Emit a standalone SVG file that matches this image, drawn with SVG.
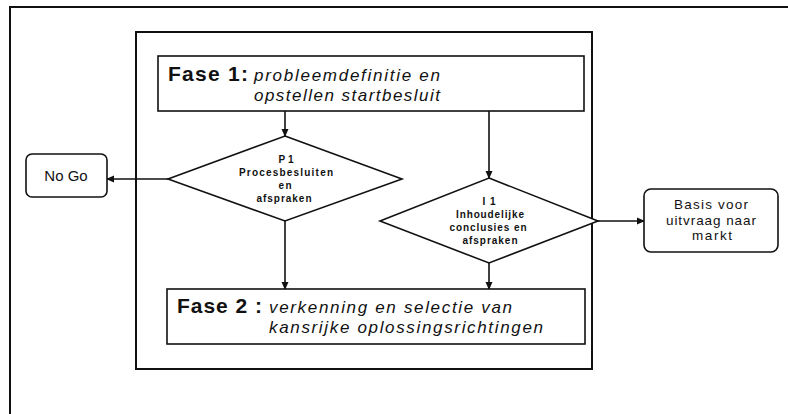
<svg xmlns="http://www.w3.org/2000/svg" width="788" height="414" viewBox="0 0 788 414">
  <style>
    .frame { fill: none; stroke: #111; stroke-width: 2; }
    .box { fill: #fff; stroke: #111; stroke-width: 1.6; }
    .wire { fill: none; stroke: #111; stroke-width: 1.6; }
    .txt { font-family: "Liberation Sans", Arial, sans-serif; fill: #111; }
    .head { font-size: 21px; font-weight: bold; }
    .desc { font-size: 17px; font-style: italic; }
    .dec { font-size: 10px; font-weight: bold; text-anchor: middle; }
    .lbl { font-size: 13.5px; text-anchor: middle; }
  </style>
  <defs>
    <marker id="arrow" markerWidth="8" markerHeight="8" refX="7" refY="4" orient="auto" markerUnits="userSpaceOnUse">
      <path d="M0,0.5 L8,4 L0,7.5 Z" fill="#111"/>
    </marker>
  </defs>
  <rect width="788" height="414" fill="#fff"/>

  <!-- outer frame (top and left edges) -->
  <path class="frame" d="M10,414 V7 H788"/>
  <!-- process container -->
  <rect class="frame" x="136" y="32" width="456" height="337" stroke-width="1.6"/>

  <g id="connectors">
    <path class="wire" d="M285,111 V136" marker-end="url(#arrow)"/>
    <path class="wire" d="M489,111 V178" marker-end="url(#arrow)"/>
    <path class="wire" d="M168,179 H107" marker-end="url(#arrow)"/>
    <path class="wire" d="M598,221 H644" marker-end="url(#arrow)"/>
    <path class="wire" d="M285,221 V289" marker-end="url(#arrow)"/>
    <path class="wire" d="M489,263 V289" marker-end="url(#arrow)"/>
  </g>

  <g id="fase1">
    <rect class="box" x="158" y="56" width="426" height="55"/>
    <text class="txt head" x="168" y="81" textLength="80" lengthAdjust="spacing">Fase 1:</text>
    <text class="txt desc" x="254" y="81" textLength="186" lengthAdjust="spacing">probleemdefinitie en</text>
    <text class="txt desc" x="254" y="101" textLength="186" lengthAdjust="spacing">opstellen startbesluit</text>
  </g>

  <g id="p1">
    <polygon class="box" points="285,136 402,179 285,221 168,179"/>
    <text class="txt dec" x="286" y="163" textLength="15" lengthAdjust="spacing">P1</text>
    <text class="txt dec" x="286" y="176" textLength="94" lengthAdjust="spacing">Procesbesluiten</text>
    <text class="txt dec" x="285" y="189" textLength="13" lengthAdjust="spacing">en</text>
    <text class="txt dec" x="284" y="202" textLength="55" lengthAdjust="spacing">afspraken</text>
  </g>

  <g id="i1">
    <polygon class="box" points="489,178 598,221 489,263 380,221"/>
    <text class="txt dec" x="489" y="205" textLength="13" lengthAdjust="spacing">I 1</text>
    <text class="txt dec" x="490" y="218" textLength="68" lengthAdjust="spacing">Inhoudelijke</text>
    <text class="txt dec" x="488" y="231" textLength="77" lengthAdjust="spacing">conclusies en</text>
    <text class="txt dec" x="490" y="244" textLength="55" lengthAdjust="spacing">afspraken</text>
  </g>

  <g id="nogo">
    <rect class="box" x="26" y="154" width="81" height="43" rx="6"/>
    <text class="txt lbl" x="66" y="181" style="font-size:15px">No Go</text>
  </g>

  <g id="basis">
    <rect class="box" x="644" y="189" width="134" height="63" rx="7"/>
    <text class="txt lbl" x="711" y="209" textLength="74" lengthAdjust="spacing">Basis voor</text>
    <text class="txt lbl" x="711" y="224.5" textLength="90" lengthAdjust="spacing">uitvraag naar</text>
    <text class="txt lbl" x="712" y="240" textLength="40" lengthAdjust="spacing">markt</text>
  </g>

  <g id="fase2">
    <rect class="box" x="167" y="289" width="418" height="55"/>
    <text class="txt head" x="177" y="313" textLength="85" lengthAdjust="spacing">Fase 2 :</text>
    <text class="txt desc" x="269" y="313" textLength="243" lengthAdjust="spacing">verkenning en selectie van</text>
    <text class="txt desc" x="269" y="333" textLength="274" lengthAdjust="spacing">kansrijke oplossingsrichtingen</text>
  </g>
</svg>
